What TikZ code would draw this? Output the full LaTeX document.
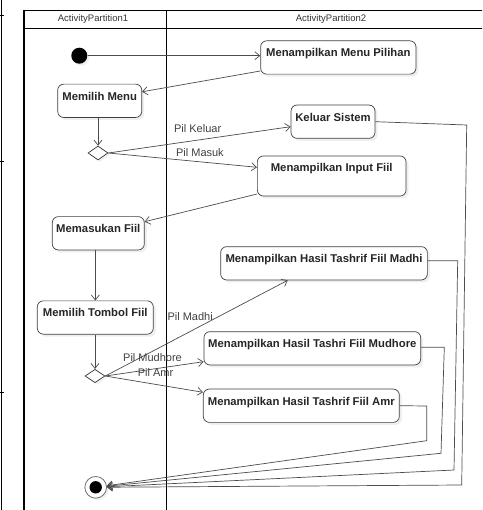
\documentclass[tikz,border=0pt]{standalone}
\usepackage{fontspec}
\setmainfont{Liberation Sans}
\usepackage{tikz}
\usetikzlibrary{arrows.meta,shapes.geometric,shadows}

\begin{document}
\begin{tikzpicture}[
    x=1pt, y=-1pt,
    >={Straight Barb[length=5pt,width=8pt]},
    lane/.style={draw=black, line width=1.1pt},
    act/.style={draw=black!75, line width=0.7pt, rounded corners=6pt, fill=white,
      inner xsep=0pt, inner ysep=0pt, text height=16pt, text depth=17.3pt,
      font=\fontsize{11.3}{13}\selectfont\bfseries, text=black!85,
      drop shadow={shadow xshift=2.5pt, shadow yshift=-2.5pt, opacity=0.12}},
    decision/.style={diamond, draw=black!80, line width=0.7pt, fill=white, inner sep=0pt,
      minimum width=20pt, minimum height=14pt,
      drop shadow={shadow xshift=2pt, shadow yshift=-2pt, opacity=0.1}},
    flow/.style={draw=black!70, line width=0.7pt, ->},
    guard/.style={font=\fontsize{11}{13}\selectfont, text=black!75, inner sep=0pt},
    lanetitle/.style={font=\fontsize{9.5}{11}\selectfont, text=black!80}
  ]
    \useasboundingbox (0,0) rectangle (482,510);
    \clip (0,0) rectangle (482,510);
    \fill[white] (0,0) rectangle (482,510);

    % Partisi
    \draw[lane] (520,10.5) -- (24,10.5) -- (24,520);
    \draw[lane] (24,28.5) -- (520,28.5);
    \draw[lane] (166.7,10.5) -- (166.7,520);
    \node[lanetitle] (part1) at (93,19.5) {ActivityPartition1};
    \node[lanetitle] (part2) at (331,19.5) {ActivityPartition2};

    % tepi halaman kiri
    \draw[line width=0.8pt] (1,0) -- (1,510);
    \foreach \ty in {15,161,392}
      \draw[line width=0.8pt] (0,\ty) -- (3.5,\ty);

    % Aktivitas
    \node[circle, fill=black, minimum size=16pt, inner sep=0pt,
      drop shadow={shadow xshift=2pt, shadow yshift=-2pt, opacity=0.12}] (start) at (79.3,55.7) {};
    \node[act, minimum width=155.3pt] (menu) at (338.3,57.5) {Menampilkan Menu Pilihan};
    \node[act, minimum width=84pt] (pilih) at (99.7,100.8) {Memilih Menu};
    \node[decision] (pil) at (98,153) {};
    \node[act, minimum width=84pt] (keluar) at (333,121.7) {Keluar Sistem};
    \node[act, minimum width=148.7pt, text depth=24pt] (input) at (331.7,176) {Menampilkan Input Fiil};
    \node[act, minimum width=92pt] (masukan) at (98.3,233.3) {Memasukan Fiil};
    \node[act, minimum width=116pt] (tombol) at (95.3,317.5) {Memilih Tombol Fiil};
    \node[decision, minimum height=13.4pt] (jenis) at (95,376) {};
    \node[act, minimum width=206.7pt] (madhi) at (324,263.3) {Menampilkan Hasil Tashrif Fiil Madhi};
    \node[act, minimum width=216.7pt] (mudhore) at (312.3,348.3) {Menampilkan Hasil Tashri Fiil Mudhore};
    \node[act, minimum width=196pt] (amr) at (301.3,405.7) {Menampilkan Hasil Tashrif Fiil Amr};
    \node[circle, draw=black!55, line width=0.8pt, fill=white, minimum size=21.7pt, inner sep=0pt,
      drop shadow={shadow xshift=2pt, shadow yshift=-2pt, opacity=0.12},
      path picture={\fill[black] (path picture bounding box.center) circle (6.2pt);}] (final) at (95.7,487.3) {};

    % Alur
    \draw[flow] (start) -- (start -| menu.west);
    \draw[flow] ([yshift=-13.5pt]menu.west) -- ([yshift=9pt]pilih.east);
    \draw[flow] (pil.north |- pilih.south) -- (pil.north);
    \draw[flow] (pil.east) -- node[guard, pos=0.49, yshift=12pt] {Pil Keluar} ([yshift=-5pt]keluar.west);
    \draw[flow] (pil.east) -- node[guard, pos=0.616, yshift=9pt] {Pil Masuk} ([yshift=8.7pt]input.west);
    \draw[flow] ([yshift=-18pt]input.west) -- ([yshift=11.6pt]masukan.east);
    \draw[flow] (tombol.north |- masukan.south) -- (tombol.north);
    \draw[flow] (jenis.north |- tombol.south) -- (jenis.north);
    \draw[flow] (jenis.east) -- node[guard, pos=0.465, yshift=15.4pt] {Pil Madhi} ([xshift=-36.3pt]madhi.south);
    \draw[flow] (jenis.east) -- node[guard, pos=0.48, yshift=11.8pt] {Pil Mudhore} ([yshift=-13.4pt]mudhore.west);
    \draw[flow] (jenis.east) -- node[guard, pos=0.514, yshift=11.7pt] {Pil Amr} ([yshift=13.4pt]amr.west);

    % Menuju akhir
    \coordinate (keluarA) at (466.7,125);
    \coordinate (keluarB) at (461.7,485);
    \coordinate (madhiA) at (457.7,260.7);
    \coordinate (madhiB) at (454,470);
    \coordinate (mudhoreA) at (444.3,347.3);
    \coordinate (mudhoreB) at (441,453.3);
    \coordinate (amrA) at (426.7,406);
    \coordinate (amrB) at (426.7,440.7);
    \draw[flow] (keluar.east) -- (keluarA) -- (keluarB) -- (final);
    \draw[flow] ([yshift=2.6pt]madhi.east) -- (madhiA) -- (madhiB) -- (final);
    \draw[flow] ([yshift=1pt]mudhore.east) -- (mudhoreA) -- (mudhoreB) -- (final);
    \draw[flow] (amr.east) -- (amrA) -- (amrB) -- (final);

  \end{tikzpicture}
\end{document}
